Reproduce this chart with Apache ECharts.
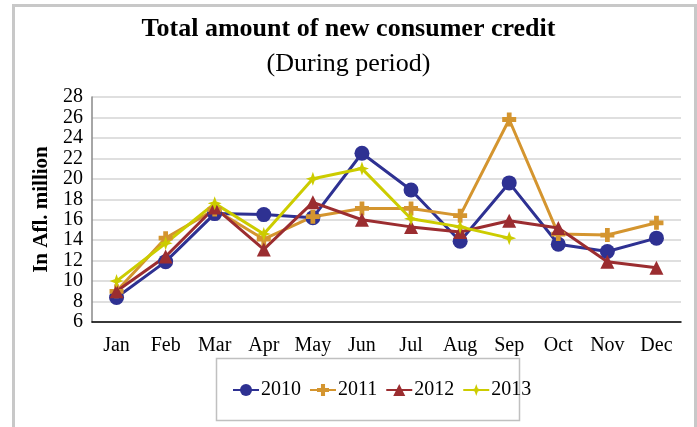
<!DOCTYPE html>
<html>
<head>
<meta charset="utf-8">
<script src="https://cdn.jsdelivr.net/npm/echarts@6/dist/echarts.min.js"></script>
<style>html,body{margin:0;padding:0;background:#fff;}#c{width:697px;height:427px;}</style>
</head>
<body>
<div id="c"></div>
<script>
const categories = ['Jan','Feb','Mar','Apr','May','Jun','Jul','Aug','Sep','Oct','Nov','Dec'];
const s2010 = [8.4, 11.9, 16.6, 16.5, 16.2, 22.5, 18.9, 13.9, 19.6, 13.6, 12.9, 14.2];
const s2011 = [9.0, 14.2, 17.0, 14.1, 16.3, 17.1, 17.1, 16.4, 25.8, 14.6, 14.5, 15.7];
const s2012 = [9.0, 12.4, 17.2, 13.1, 17.7, 16.0, 15.3, 14.8, 15.9, 15.2, 11.9, 11.3];
const s2013 = [10.0, 13.7, 17.6, 14.6, 20.0, 21.0, 16.1, 15.3, 14.2, null, null, null];
const seriesNames = ['2010','2011','2012','2013'];
const colors = ['#2E3192','#D4952F','#9B2D30','#CCCC00'];

const plusPath = 'path://M3.3,0 L6.7,0 L6.7,3.3 L10,3.3 L10,6.7 L6.7,6.7 L6.7,10 L3.3,10 L3.3,6.7 L0,6.7 L0,3.3 L3.3,3.3 Z';
const starPath = 'path://M5,0 L6.3,3.7 L10,5 L6.3,6.3 L5,10 L3.7,6.3 L0,5 L3.7,3.7 Z';
const symbols = ['circle', plusPath, 'triangle', starPath];
const sizes = [15, 14, 14, 14];
const data = [s2010, s2011, s2012, s2013];

const font = 'Liberation Serif, Times New Roman, serif';
const chart = echarts.init(document.getElementById('c'));
chart.setOption({
  animation: false,
  color: colors,
  textStyle: {fontFamily: font},
  title: [
    {text: 'Total amount of new consumer credit', left: 'center', top: 11,
     textStyle: {fontFamily: font, fontSize: 26, fontWeight: 'bold', color: '#000'}},
    {text: '(During period)', left: 'center', top: 46,
     textStyle: {fontFamily: font, fontSize: 26, fontWeight: 'normal', color: '#000'}}
  ],
  graphic: [
    {type: 'rect', left: 11, top: 3, shape: {width: 682, height: 440},
     style: {fill: 'none', stroke: '#c8c8c8', lineWidth: 3}, silent: true},
    {type: 'rect', left: 214, top: 356, shape: {width: 303, height: 62},
     style: {fill: 'none', stroke: '#c0c0c0', lineWidth: 1.5}, silent: true}
  ],
  legend: {
    data: seriesNames, left: 227, top: 375, itemWidth: 26, itemHeight: 15, itemGap: 8,
    textStyle: {fontFamily: font, fontSize: 20, color: '#000', padding: [0,0,0,-3]}
  },
  grid: {left: 92, right: 16, top: 97, bottom: 105},
  xAxis: {
    type: 'category', data: categories, boundaryGap: true,
    axisLine: {lineStyle: {color: '#000', width: 1.5}},
    axisTick: {show: false},
    axisLabel: {fontFamily: font, fontSize: 20, color: '#000', margin: 14}
  },
  yAxis: {
    type: 'value', min: 6, max: 28, interval: 2,
    name: 'In Afl. million', nameLocation: 'middle', nameGap: 34, nameRotate: 90,
    nameTextStyle: {fontFamily: font, fontSize: 21, fontWeight: 'bold', color: '#000'},
    axisLine: {show: true, lineStyle: {color: '#888', width: 1.5}},
    axisTick: {show: false},
    axisLabel: {fontFamily: font, fontSize: 20, color: '#000', margin: 9},
    splitLine: {lineStyle: {color: '#d4d4d4', width: 1.5}}
  },
  series: seriesNames.map((n, i) => ({
    name: n, type: 'line', data: data[i],
    symbol: symbols[i], symbolSize: sizes[i], showAllSymbol: true,
    lineStyle: {width: 3, color: colors[i]},
    itemStyle: {color: colors[i]},
    connectNulls: false
  }))
});
</script>
</body>
</html>
